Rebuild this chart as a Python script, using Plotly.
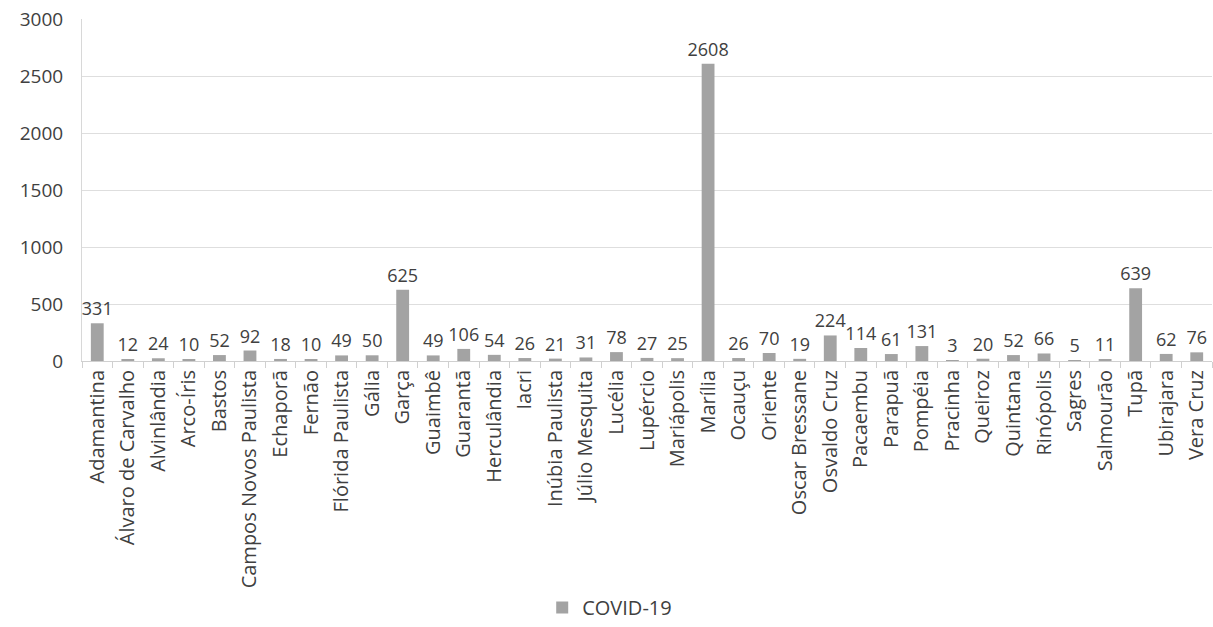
import plotly.graph_objects as go

municipios = [
    "Adamantina", "Álvaro de Carvalho", "Alvinlândia", "Arco-Íris", "Bastos",
    "Campos Novos Paulista", "Echaporã", "Fernão", "Flórida Paulista", "Gália",
    "Garça", "Guaimbê", "Guarantã", "Herculândia", "Iacri", "Inúbia Paulista",
    "Júlio Mesquita", "Lucélia", "Lupércio", "Mariápolis", "Marília", "Ocauçu",
    "Oriente", "Oscar Bressane", "Osvaldo Cruz", "Pacaembu", "Parapuã",
    "Pompéia", "Pracinha", "Queiroz", "Quintana", "Rinópolis", "Sagres",
    "Salmourão", "Tupã", "Ubirajara", "Vera Cruz",
]
casos = [
    331, 12, 24, 10, 52,
    92, 18, 10, 49, 50,
    625, 49, 106, 54, 26, 21,
    31, 78, 27, 25, 2608, 26,
    70, 19, 224, 114, 61,
    131, 3, 20, 52, 66, 5,
    11, 639, 62, 76,
]
y_ticks = [0, 500, 1000, 1500, 2000, 2500, 3000]

font_family = "Open Sans, Noto Sans, sans-serif"
text_color = "#404040"

fig = go.Figure()
fig.add_trace(go.Bar(
    x=municipios,
    y=casos,
    name="COVID-19",
    marker=dict(color="#a3a3a3", line=dict(width=0)),
    text=[str(v) for v in casos],
    textposition="outside",
    constraintext="none",
    textfont=dict(family=font_family, size=18, color=text_color),
    cliponaxis=False,
))

fig.update_layout(
    width=1213,
    height=627,
    margin=dict(l=82, r=1, t=19, b=266, autoexpand=False),
    plot_bgcolor="white",
    paper_bgcolor="white",
    bargap=0.58,
    showlegend=True,
    legend=dict(
        orientation="h",
        x=0.467, xanchor="center",
        y=-0.778, yanchor="bottom",
        itemwidth=30,
        font=dict(family=font_family, size=20, color=text_color),
    ),
)

fig.update_xaxes(
    type="category",
    automargin=False,
    tickangle=-90,
    tickfont=dict(family=font_family, size=20, color=text_color),
    showline=True,
    linecolor="#d0d0d0",
    ticks="outside",
    tickson="boundaries",
    ticklen=6,
    tickcolor="#d0d0d0",
    showgrid=False,
)

fig.update_yaxes(
    automargin=False,
    range=[0, 3000],
    tickvals=y_ticks,
    ticktext=[str(v) for v in y_ticks],
    tickfont=dict(family=font_family, size=19, color=text_color),
    showgrid=True,
    gridcolor="#dedede",
    gridwidth=1,
    showline=True,
    linecolor="#d8d8d8",
    zeroline=False,
    ticks="",
    ticklabelstandoff=14,
)

fig.write_html("out.html")
